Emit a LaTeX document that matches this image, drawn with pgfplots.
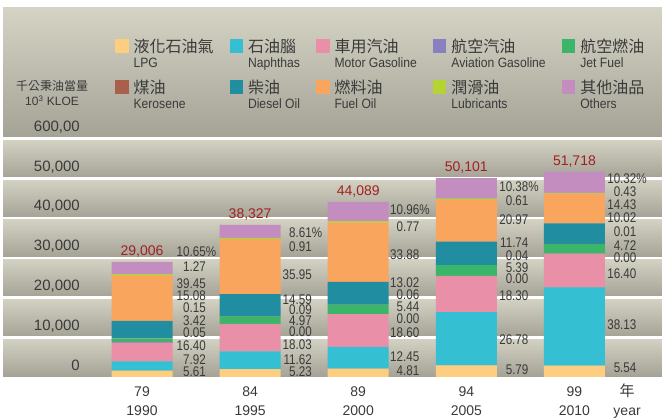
\documentclass[border=0pt]{standalone}
\usepackage{pgfplots}
\pgfplotsset{compat=1.18}
\usepackage{pgfplotstable}
\usepackage{fontspec}
\setmainfont{Liberation Sans}
\newfontfamily\cjk{Noto Sans CJK TC}
\newfontfamily\nrw{Liberation Sans}[FakeStretch=0.83]
\newfontfamily\lgf{Liberation Sans}[FakeStretch=0.9]

\definecolor{cLPG}{RGB}{254,206,128}
\definecolor{cNap}{RGB}{53,191,211}
\definecolor{cMot}{RGB}{234,143,168}
\definecolor{cAvg}{RGB}{138,127,191}
\definecolor{cJet}{RGB}{59,181,106}
\definecolor{cKer}{RGB}{168,96,74}
\definecolor{cDie}{RGB}{33,141,160}
\definecolor{cFue}{RGB}{249,165,94}
\definecolor{cLub}{RGB}{182,211,52}
\definecolor{cOth}{RGB}{196,141,192}
\definecolor{txt}{RGB}{58,58,58}
\definecolor{tot}{RGB}{163,31,36}
\definecolor{bandA}{RGB}{212,211,196}
\definecolor{bandB}{RGB}{203,202,188}
\definecolor{bandC}{RGB}{163,162,149}

% totals (10^3 KLOE) and shares (%) per product, bottom to top
\pgfplotstableread{
x total lpg nap mot avg jet ker die fue lub oth
0 29006 5.61 7.92 16.40 0.05 3.42 0.15 15.08 39.45 1.27 10.65
1 38327 5.23 11.62 18.03 0.00 4.97 0.09 14.59 35.95 0.91 8.61
2 44089 4.81 12.45 18.60 0.00 5.44 0.06 13.02 33.88 0.77 10.96
3 50101 5.79 26.78 18.30 0.00 5.39 0.04 11.74 20.97 0.61 10.38
4 51718 5.54 38.13 16.40 0.00 4.72 0.01 10.02 14.43 0.43 10.32
}\fuel

% label positions beside the bars
\pgfplotstableread{
x y lab
0.592 27783 1.27
0.592 23426 39.45
0.592 20403 15.08
0.592 17456 0.15
0.592 14181 3.42
0.592 11159 0.05
0.592 7809 16.40
0.592 4458 7.92
0.592 1335 5.61
1.572 32821 0.91
1.572 25693 35.95
1.572 19471 14.59
1.572 16877 0.09
1.572 14181 4.97
1.572 11511 0.00
1.572 8237 18.03
1.572 4458 11.62
1.572 1436 5.23
2.567 37960 0.77
2.567 30907 33.88
2.567 23753 13.02
2.567 20831 0.06
2.567 17809 5.44
2.567 14685 0.00
2.567 11259 18.60
2.567 5113 12.45
2.567 1587 4.81
3.576 44408 0.61
3.576 39547 20.97
3.576 33929 11.74
3.576 30479 0.04
3.576 27632 5.39
3.576 24761 0.00
3.576 20479 18.30
3.576 9496 26.78
3.576 1940 5.79
4.575 46675 0.43
4.575 43501 14.43
4.575 40126 10.02
4.575 36599 0.01
4.575 33073 4.72
4.575 30151 0.00
4.575 26121 16.40
4.575 13098 38.13
4.575 2343 5.54
}\pct

\pgfplotstableread{
x y lab
0.592 31486 10.65
1.572 36348 8.61
2.567 42065 10.96
3.576 47935 10.38
4.575 49874 10.32
}\pcttop

\newcommand{\legtxt}[2]{\begin{tabular}[t]{@{}l@{}}{\cjk #1}\\{\lgf\fontsize{13.5}{15}\selectfont #2}\end{tabular}}
\newcommand{\band}[2]{\fill[top color=bandA, middle color=bandB, bottom color=bandC]
  (axis cs:-1.286,#1) rectangle (axis cs:4.81,#2);}

\pgfplotsset{
  seg/.style={fill=#1, draw=none,
    legend image code/.code={\fill[#1] (0pt,0pt) rectangle (13.5pt,13.5pt);}},
  frame/.style={at={(3pt,41pt)}, anchor=south west, scale only axis,
    width=659pt, height=369pt, xmin=-1.286, xmax=4.81, ymin=0, ymax=92947},
}

\begin{document}
\begin{tikzpicture}
\useasboundingbox (0,0) rectangle (662pt,418pt);
% banded background
\begin{axis}[frame, hide axis, clip=false]
\band{0}{10000}
\band{10000}{20000}
\band{20000}{30000}
\band{30000}{40000}
\band{40000}{50000}
\band{50000}{60000}
\band{60000}{92947}
\draw[white, line width=2.6pt] (axis cs:-1.286,10000) -- (axis cs:4.81,10000);
\draw[white, line width=2.6pt] (axis cs:-1.286,20000) -- (axis cs:4.81,20000);
\draw[white, line width=2.6pt] (axis cs:-1.286,30000) -- (axis cs:4.81,30000);
\draw[white, line width=2.6pt] (axis cs:-1.286,40000) -- (axis cs:4.81,40000);
\draw[white, line width=2.6pt] (axis cs:-1.286,50000) -- (axis cs:4.81,50000);
\draw[white, line width=2.6pt] (axis cs:-1.286,60000) -- (axis cs:4.81,60000);
\end{axis}

\begin{axis}[
  frame,
  ybar stacked, bar width=61pt,
  axis line style={draw=none}, major tick length=0pt,
  scaled y ticks=false,
  xtick={0,1,2,3,4},
  xticklabels={{79\\1990},{84\\1995},{89\\2000},{94\\2005},{99\\2010}},
  extra x ticks={4.487},
  extra x tick labels={{\vphantom{9}\smash{\cjk\fontsize{15}{19.3}\selectfont 年}\\year}},
  xticklabel style={anchor=north, inner sep=0pt, yshift=-9.5pt, align=center,
    font=\fontsize{14}{19.3}\selectfont, text=txt},
  ytick={0,10000,20000,30000,40000,50000,60000},
  yticklabels={0,{10,000},{20,000},{30,000},{40,000},{50,000},{600,00}},
  yticklabel style={anchor=east, inner sep=0pt, xshift=77pt, yshift=11.5pt,
    font=\fontsize{15}{17}\selectfont, text=txt},
  legend columns=5,
  legend style={at={(rel axis cs:0.170,0.9206)}, anchor=north west,
    draw=none, fill=none, inner sep=0pt, outer sep=0pt, row sep=22pt,
    font=\fontsize{16}{15}\selectfont, text=txt,
    cells={anchor=base west},
    /tikz/every odd column/.append style={column sep=3pt},
    /tikz/every even column/.append style={column sep=14pt}},
]
\addplot[seg=cLPG] table[x=x, y expr=\thisrow{total}*\thisrow{lpg}/100] {\fuel};
\addlegendentry{\legtxt{液化石油氣}{LPG}}
\addplot[seg=cNap] table[x=x, y expr=\thisrow{total}*\thisrow{nap}/100] {\fuel};
\addlegendentry{\legtxt{石油腦}{Naphthas}}
\addplot[seg=cMot] table[x=x, y expr=\thisrow{total}*\thisrow{mot}/100] {\fuel};
\addlegendentry{\legtxt{車用汽油}{Motor Gasoline}}
\addplot[seg=cAvg] table[x=x, y expr=\thisrow{total}*\thisrow{avg}/100] {\fuel};
\addlegendentry{\legtxt{航空汽油}{Aviation Gasoline}}
\addplot[seg=cJet] table[x=x, y expr=\thisrow{total}*\thisrow{jet}/100] {\fuel};
\addlegendentry{\legtxt{航空燃油}{Jet Fuel}}
\addplot[seg=cKer] table[x=x, y expr=\thisrow{total}*\thisrow{ker}/100] {\fuel};
\addlegendentry{\legtxt{煤油}{Kerosene}}
\addplot[seg=cDie] table[x=x, y expr=\thisrow{total}*\thisrow{die}/100] {\fuel};
\addlegendentry{\legtxt{柴油}{Diesel Oil}}
\addplot[seg=cFue] table[x=x, y expr=\thisrow{total}*\thisrow{fue}/100] {\fuel};
\addlegendentry{\legtxt{燃料油}{Fuel Oil}}
\addplot[seg=cLub] table[x=x, y expr=\thisrow{total}*\thisrow{lub}/100] {\fuel};
\addlegendentry{\legtxt{潤滑油}{Lubricants}}
\addplot[seg=cOth] table[x=x, y expr=\thisrow{total}*\thisrow{oth}/100] {\fuel};
\addlegendentry{\legtxt{其他油品}{Others}}
\end{axis}

\begin{axis}[frame, hide axis, clip=false]
\addplot[draw=none, mark=none, point meta=explicit symbolic,
  nodes near coords, nodes near coords align={left},
  every node near coord/.append style={anchor=east, inner sep=0pt,
    font=\nrw\fontsize{14}{16}\selectfont, text=txt}]
  table[x=x, y=y, meta=lab] {\pct};
\addplot[draw=none, mark=none, point meta=explicit symbolic,
  nodes near coords={\pgfplotspointmeta\rlap{\%}}, nodes near coords align={left},
  every node near coord/.append style={anchor=east, inner sep=0pt,
    font=\nrw\fontsize{14}{16}\selectfont, text=txt}]
  table[x=x, y=y, meta=lab] {\pcttop};
\addplot[draw=none, mark=none, point meta=explicit,
  /pgf/number format/.cd, fixed, precision=0, 1000 sep={,}, assume math mode=true,
  /pgfplots/.cd,
  nodes near coords,
  every node near coord/.append style={anchor=south, inner sep=0pt, yshift=4.5pt,
    font=\fontsize{14}{16}\selectfont, text=tot}]
  table[x=x, y=total, meta=total] {\fuel};
\node[align=center, text=txt, font=\fontsize{12}{15.5}\selectfont]
  at (rel axis cs:0.0744,0.7696) {{\cjk 千公秉油當量}\\10\textsuperscript{3} KLOE};
\end{axis}
\end{tikzpicture}
\end{document}
